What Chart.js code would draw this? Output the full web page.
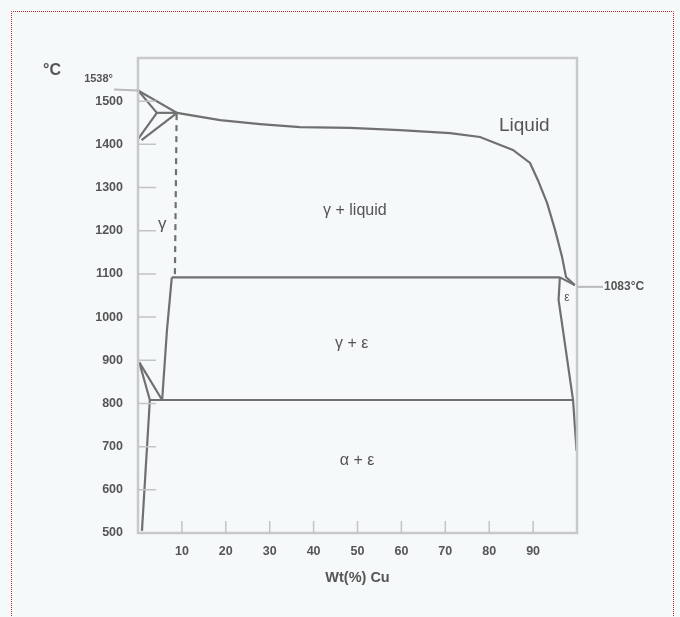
<!DOCTYPE html>
<html lang="en">
<head>
    <meta charset="UTF-8">
    <title>Fe-Cu</title>
    <script src="https://cdn.jsdelivr.net/npm/chart.js"></script>
    <style>
        body { margin: 0; background: #f6f9fa; }
        #wrap { position: absolute; left: 0; top: 0; width: 680px; height: 617px; }
    </style>
</head>
<body>
<div id="wrap"><canvas id="myChart"></canvas></div>

<script>
    // phase boundaries, [wt% Cu, °C]
    const liquidus = [[0, 1525], [8.9, 1473], [18.7, 1456], [27.8, 1447], [36.9, 1440], [48.3, 1438], [59.7, 1433],
        [71.1, 1426], [77.9, 1417], [85.4, 1387], [89.3, 1357], [91.1, 1317], [93.2, 1264], [95.0, 1202],
        [96.6, 1139], [97.5, 1093], [99.5, 1074]];
    const deltaSolidus = [[0, 1525], [4.3, 1473]];
    const peritectic = [[4.3, 1473], [8.9, 1473]];
    const deltaSolvus = [[4.3, 1473], [0, 1412]];
    const gammaDelta = [[0.8, 1410], [8.9, 1473]];
    const gammaSolidus = [[8.8, 1470], [8.4, 1092]];
    const monotectic = [[7.7, 1092], [96.1, 1092]];
    const gammaSolvus = [[7.7, 1092], [6.6, 970], [5.5, 808]];
    const eutectoid = [[2.7, 808], [99.1, 808]];
    const alphaGamma = [[0.3, 895], [5.5, 808]];
    const alphaLine = [[0.3, 895], [2.7, 808]];
    const alphaSolvus = [[2.7, 808], [0.9, 505]];
    const epsSolidus = [[96.1, 1092], [99.5, 1074]];
    const epsSolvus = [[96.1, 1092], [95.8, 1040], [96.8, 970], [99.1, 808], [99.9, 690]];

    const xTicks = [10, 20, 30, 40, 50, 60, 70, 80, 90];
    const yTicks = [500, 600, 700, 800, 900, 1000, 1100, 1200, 1300, 1400, 1500];

    // region names: [text, wt% Cu, °C, font px]
    const regionLabels = [['Liquid', 88, 1442, 19], ['γ + liquid', 49.4, 1247, 16], ['γ', 5.5, 1215, 17],
        ['γ + ε', 48.7, 939, 16], ['α + ε', 49.9, 668, 16], ['ε', 97.7, 1045, 12]];
    const cuMelt = [100, 1070, '1083°C'];
    const feMelt = [0, 1525, '1538°'];

    const lineColor = '#707070';
    const textColor = '#555';
    const fam = '"Liberation Sans", Arial, sans-serif';

    function toPts(arr) {
        return arr.map(p => ({x: p[0], y: p[1]}));
    }

    function ds(arr, dashed) {
        return {
            data: toPts(arr),
            showLine: true,
            borderColor: lineColor,
            borderWidth: 2.2,
            borderDash: dashed ? [6, 5] : [],
            pointRadius: 0,
            fill: false,
            tension: 0
        };
    }

    const extras = {
        id: 'extras',
        beforeDraw(chart) {
            // dotted page border
            const c = chart.ctx;
            c.save();
            c.strokeStyle = '#c62828';
            c.lineWidth = 1;
            c.setLineDash([1, 1]);
            c.beginPath();
            c.moveTo(11.5, 640);
            c.lineTo(11.5, 11.5);
            c.lineTo(673.5, 11.5);
            c.lineTo(673.5, 640);
            c.stroke();
            c.restore();
        },
        afterDatasetsDraw(chart) {
            const c = chart.ctx;
            const xs = chart.scales.x, ys = chart.scales.y;
            const a = chart.chartArea;
            c.save();
            // frame
            c.strokeStyle = '#c8c9ca';
            c.lineWidth = 2.5;
            c.strokeRect(a.left, a.top, a.right - a.left, a.bottom - a.top);
            // inward ticks
            c.lineWidth = 1.5;
            c.strokeStyle = '#c2c4c6';
            c.beginPath();
            xTicks.forEach(v => {
                const px = xs.getPixelForValue(v);
                c.moveTo(px, a.bottom);
                c.lineTo(px, a.bottom - 12);
            });
            yTicks.slice(1).forEach(v => {
                const py = ys.getPixelForValue(v);
                c.moveTo(a.left, py);
                c.lineTo(a.left + 18, py);
            });
            c.stroke();
            // region labels
            c.fillStyle = textColor;
            c.textAlign = 'center';
            c.textBaseline = 'middle';
            regionLabels.forEach(r => {
                c.font = r[3] + 'px ' + fam;
                c.fillText(r[0], xs.getPixelForValue(r[1]), ys.getPixelForValue(r[2]));
            });
            // melting points with leaders
            c.strokeStyle = '#b8babc';
            c.lineWidth = 2;
            let px = xs.getPixelForValue(cuMelt[0]), py = ys.getPixelForValue(cuMelt[1]);
            c.beginPath();
            c.moveTo(px, py);
            c.lineTo(px + 26, py);
            c.stroke();
            c.font = 'bold 12px ' + fam;
            c.textAlign = 'left';
            c.fillText(cuMelt[2], px + 27, py);
            px = xs.getPixelForValue(feMelt[0]);
            py = ys.getPixelForValue(feMelt[1]);
            c.beginPath();
            c.moveTo(px, py);
            c.lineTo(px - 24, py - 1);
            c.stroke();
            c.font = 'bold 11px ' + fam;
            c.textAlign = 'right';
            c.fillText(feMelt[2], px - 25, py - 11);
            // unit
            c.font = 'bold 16px ' + fam;
            c.textAlign = 'center';
            c.fillText('°C', 52, 71);
            c.restore();
        }
    };

    new Chart(document.getElementById('myChart'), {
        type: 'scatter',
        data: {
            datasets: [ds(liquidus), ds(deltaSolidus), ds(peritectic), ds(deltaSolvus), ds(gammaDelta),
                ds(gammaSolidus, true), ds(monotectic), ds(gammaSolvus), ds(eutectoid), ds(alphaGamma),
                ds(alphaLine), ds(alphaSolvus), ds(epsSolidus), ds(epsSolvus)]
        },
        options: {
            responsive: true,
            maintainAspectRatio: false,
            animation: false,
            layout: {padding: {top: 58, right: 103, left: 0, bottom: 0}},
            plugins: {legend: {display: false}, tooltip: {enabled: false}},
            scales: {
                x: {
                    type: 'linear', min: 0, max: 100,
                    afterFit: s => { s.height = 84; },
                    grid: {display: false, drawTicks: false},
                    border: {display: false},
                    ticks: {
                        stepSize: 10, padding: 11, color: textColor,
                        font: {family: fam, size: 12.5, weight: 'bold'},
                        callback: v => xTicks.includes(v) ? String(v) : ''
                    },
                    title: {
                        display: true, text: 'Wt(%) Cu', color: textColor,
                        font: {family: fam, size: 14.5, weight: 'bold'},
                        padding: {top: 0, bottom: 30}
                    }
                },
                y: {
                    type: 'linear', min: 500, max: 1600,
                    afterFit: s => { s.width = 138; },
                    grid: {display: false, drawTicks: false},
                    border: {display: false},
                    ticks: {
                        stepSize: 100, padding: 15, color: textColor,
                        font: {family: fam, size: 12.5, weight: 'bold'},
                        callback: v => yTicks.includes(v) ? String(v) : ''
                    }
                }
            }
        },
        plugins: [extras]
    });
</script>
</body>
</html>
